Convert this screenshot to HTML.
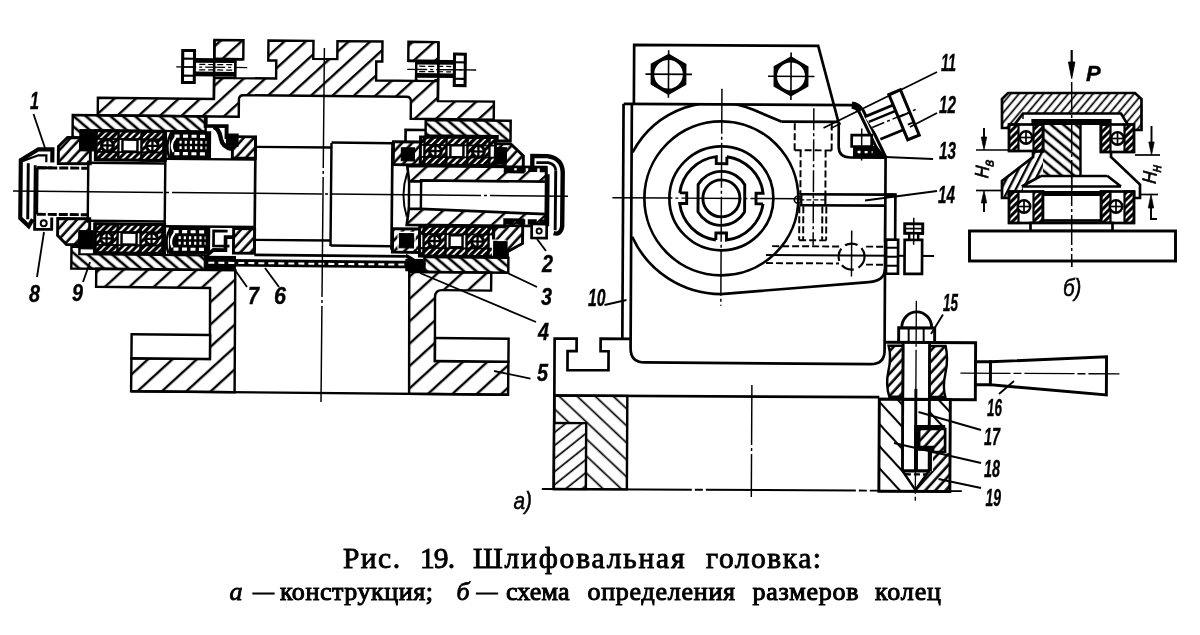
<!DOCTYPE html>
<html><head><meta charset="utf-8"><title>Рис. 19</title>
<style>
html,body{margin:0;padding:0;background:#fff;}
body{width:1200px;height:635px;overflow:hidden;position:relative;font-family:"Liberation Serif",serif;}
svg{position:absolute;left:0;top:0;will-change:transform;}
svg *{stroke:#000;stroke-linejoin:miter;}
svg text{stroke:none;fill:#000;}
.n{font-family:"Liberation Sans",sans-serif;font-style:italic;font-weight:bold;stroke:#000 !important;stroke-width:0.4px;}
.n2{font-family:"Liberation Sans",sans-serif;font-style:italic;stroke:#000 !important;stroke-width:0.5px;}
.c1{font-family:"Liberation Serif",serif;stroke:#000 !important;stroke-width:0.85px;}
.c2{font-family:"Liberation Serif",serif;stroke:#000 !important;stroke-width:1px;}
</style></head><body>
<svg width="1200" height="635" viewBox="0 0 1200 635">
<defs>
<pattern id="hA" width="14.5" height="14.5" patternUnits="userSpaceOnUse" patternTransform="rotate(-43)"><line x1="0" y1="6" x2="14.5" y2="6" stroke-width="2.4"/></pattern>
<pattern id="hA2" width="16.5" height="16.5" patternUnits="userSpaceOnUse" patternTransform="rotate(-43)"><line x1="0" y1="3" x2="16.5" y2="3" stroke-width="2.4"/></pattern>
<pattern id="hB" width="8" height="8" patternUnits="userSpaceOnUse" patternTransform="rotate(40)"><line x1="0" y1="4" x2="8" y2="4" stroke-width="2.6"/></pattern>
<pattern id="hC" width="5" height="5" patternUnits="userSpaceOnUse" patternTransform="rotate(-45)"><line x1="0" y1="2.5" x2="5" y2="2.5" stroke-width="3.1"/></pattern>
<pattern id="hD" width="10.2" height="10.2" patternUnits="userSpaceOnUse" patternTransform="rotate(-39)"><line x1="0" y1="3" x2="10.2" y2="3" stroke-width="1.7"/></pattern>
<pattern id="hE" width="12.4" height="12.4" patternUnits="userSpaceOnUse" patternTransform="rotate(43)"><line x1="0" y1="8" x2="12.4" y2="8" stroke-width="1.7"/></pattern>
<pattern id="hF" width="7.5" height="7.5" patternUnits="userSpaceOnUse" patternTransform="rotate(-48)"><line x1="0" y1="3.5" x2="7.5" y2="3.5" stroke-width="2.6"/></pattern>
<pattern id="hK" width="6.3" height="6.3" patternUnits="userSpaceOnUse" patternTransform="rotate(-50)"><line x1="0" y1="3" x2="6.3" y2="3" stroke-width="1.7"/></pattern>
<pattern id="hL" width="6.5" height="6.5" patternUnits="userSpaceOnUse" patternTransform="rotate(-63)"><line x1="0" y1="3" x2="6.5" y2="3" stroke-width="2.3"/></pattern>
<pattern id="hG" width="15" height="15" patternUnits="userSpaceOnUse" patternTransform="rotate(47)"><line x1="0" y1="5" x2="15" y2="5" stroke-width="2.1"/></pattern>
<clipPath id="clipTop"><rect x="600" y="104" width="300" height="300"/></clipPath>
</defs>
<g transform="rotate(0.55 323 194)">
<path d="M97,100 L213,100 L213,41 L242,41 L242,60 L234,60 L234,79 L275,79 L275,61 L267,61 L267,41 L312,41 L312,59 L336,59 L336,41 L381,41 L381,61 L375,61 L375,80 L415,80 L415,60 L407,60 L407,41 L437,41 L437,100 L493,100 L493,118 L410,118 L410,100.5 Q410,96 405.5,96 L242.5,96 Q238,96 238,100.5 L238,117.5 L97,117.5 Z" fill="url(#hA)" stroke-width="2.44" />
<rect x="213" y="60" width="21" height="18" fill="#fff" stroke-width="0" />
<rect x="415" y="60" width="22" height="18" fill="#fff" stroke-width="0" />
<rect x="181.4" y="51.8" width="11.8" height="32" fill="#fff" stroke-width="3.05" />
<line x1="181.4" y1="60" x2="193.2" y2="60" stroke-width="2.196" />
<line x1="181.4" y1="68.3" x2="193.2" y2="68.3" stroke-width="1.464" />
<line x1="181.4" y1="77" x2="193.2" y2="77" stroke-width="2.196" />
<rect x="193.5" y="59.3" width="41" height="4.6" fill="#000" stroke-width="0" />
<rect x="193.5" y="72.8" width="41" height="4.7" fill="#000" stroke-width="0" />
<line x1="198" y1="65.6" x2="232" y2="65.6" stroke-width="1.22" stroke-dasharray="6 3" />
<line x1="198" y1="71" x2="232" y2="71" stroke-width="1.22" stroke-dasharray="6 3" />
<line x1="213" y1="60" x2="242" y2="60" stroke-width="2.684" />
<line x1="213" y1="79" x2="234" y2="79" stroke-width="2.44" />
<line x1="213" y1="41" x2="213" y2="100" stroke-width="2.44" />
<line x1="234" y1="60" x2="234" y2="79" stroke-width="2.44" />
<line x1="175" y1="68.3" x2="246" y2="68.3" stroke-width="1.342" stroke-dasharray="20 3 3 3" />
<rect x="453.2" y="52.8" width="10.8" height="31.5" fill="#fff" stroke-width="3.05" />
<line x1="453.2" y1="61" x2="464" y2="61" stroke-width="2.196" />
<line x1="453.2" y1="68.5" x2="464" y2="68.5" stroke-width="1.464" />
<line x1="453.2" y1="77.5" x2="464" y2="77.5" stroke-width="2.196" />
<rect x="415" y="58.8" width="38.5" height="4.7" fill="#000" stroke-width="0" />
<rect x="415" y="72.2" width="38.5" height="4.6" fill="#000" stroke-width="0" />
<line x1="418" y1="65.3" x2="450" y2="65.3" stroke-width="1.22" stroke-dasharray="6 3" />
<line x1="418" y1="70.6" x2="450" y2="70.6" stroke-width="1.22" stroke-dasharray="6 3" />
<line x1="407" y1="60" x2="437" y2="60" stroke-width="2.684" />
<line x1="415" y1="80" x2="437" y2="80" stroke-width="2.44" />
<line x1="437" y1="41" x2="437" y2="100" stroke-width="2.44" />
<line x1="415" y1="60" x2="415" y2="80" stroke-width="2.44" />
<line x1="406" y1="68.5" x2="475" y2="68.5" stroke-width="1.342" stroke-dasharray="20 3 3 3" />
<path d="M97,271 L236,271 L236.5,393 L133,393 L133,360 L211.5,360 L211,289 L97,289 Z" fill="url(#hA2)" stroke-width="2.44" />
<rect x="133" y="336" width="78.5" height="24" fill="#fff" stroke-width="2.44" />
<path d="M410,271 L492,271 L492,289 L443,289 Q436,289 436,296 L436.5,360 L510,360 L510,393 L411,393 Z" fill="url(#hA2)" stroke-width="2.44" />
<rect x="436.5" y="337" width="73.5" height="23" fill="#fff" stroke-width="2.44" />
<line x1="133" y1="393" x2="510" y2="393" stroke-width="2.44" />
<path d="M72,117.5 L205,117.5 L205,132.5 L80,132.5 L80,140 L72,140 Z" fill="url(#hB)" stroke-width="2.44" />
<path d="M72,271 L72,249 L80,249 L80,256.5 L208,256.5 L208,271 Z" fill="url(#hB)" stroke-width="2.44" />
<path d="M425,119 L510,119 L510,139 L497,139 L497,134.5 L425,134.5 Z" fill="url(#hB)" stroke-width="2.44" />
<path d="M425,256 L509,256 L509,271 L425,271 Z" fill="url(#hB)" stroke-width="2.44" />
<rect x="206" y="260" width="220" height="7.5" fill="#000" stroke-width="0" />
<line x1="255" y1="255.5" x2="406" y2="255.5" stroke-width="2.684" />
<path d="M205,257.5 L236,257.5 L236,270 L205,270 Z" fill="#000" stroke-width="1.22" />
<line x1="209" y1="263.8" x2="420" y2="263.8" stroke-width="2.074" stroke-dasharray="6 4" style="stroke:#fff"/>
<line x1="37" y1="170.5" x2="88" y2="170.5" stroke-width="2.928" stroke-dasharray="9 2" />
<line x1="37" y1="217" x2="88" y2="217" stroke-width="2.928" stroke-dasharray="9 2" />
<line x1="37" y1="170.5" x2="37" y2="217" stroke-width="2.684" />
<line x1="88" y1="163" x2="88" y2="225" stroke-width="2.44" />
<line x1="88" y1="165" x2="165" y2="165" stroke-width="2.44" />
<line x1="88" y1="223" x2="165" y2="223" stroke-width="2.44" />
<line x1="165" y1="161" x2="165" y2="227" stroke-width="2.44" />
<line x1="165" y1="160.3" x2="255" y2="160.3" stroke-width="2.44" />
<line x1="165" y1="227.7" x2="255" y2="227.7" stroke-width="2.44" />
<line x1="255" y1="137" x2="255" y2="251" stroke-width="2.684" />
<line x1="255" y1="147.5" x2="331" y2="147.5" stroke-width="2.44" />
<line x1="255" y1="240.5" x2="331" y2="240.5" stroke-width="2.44" />
<line x1="331" y1="143" x2="331" y2="246" stroke-width="2.44" />
<line x1="331" y1="142.5" x2="392" y2="142.5" stroke-width="2.44" />
<line x1="331" y1="245.5" x2="392" y2="245.5" stroke-width="2.44" />
<line x1="392" y1="141" x2="392" y2="249" stroke-width="2.684" />
<rect x="95" y="133" width="70" height="29" fill="#fff" stroke-width="2.928" />
<rect x="95" y="133" width="70" height="8" fill="url(#hC)" stroke-width="1.83" />
<rect x="95" y="154" width="70" height="8" fill="url(#hC)" stroke-width="1.83" />
<rect x="96" y="133" width="22" height="29" fill="url(#hC)" stroke-width="2.44" />
<circle cx="107" cy="147.5" r="5.9" fill="#fff" stroke-width="3.05"/>
<line x1="101" y1="147.5" x2="113" y2="147.5" stroke-width="2.318" />
<line x1="107" y1="141.5" x2="107" y2="153.5" stroke-width="2.318" />
<rect x="141" y="133" width="22" height="29" fill="url(#hC)" stroke-width="2.44" />
<circle cx="152" cy="147.5" r="5.9" fill="#fff" stroke-width="3.05"/>
<line x1="146" y1="147.5" x2="158" y2="147.5" stroke-width="2.318" />
<line x1="152" y1="141.5" x2="152" y2="153.5" stroke-width="2.318" />
<rect x="122" y="141.5" width="15" height="12" fill="#fff" stroke-width="2.44" />
<rect x="95" y="226" width="70" height="29" fill="#fff" stroke-width="2.928" />
<rect x="95" y="226" width="70" height="8" fill="url(#hC)" stroke-width="1.83" />
<rect x="95" y="247" width="70" height="8" fill="url(#hC)" stroke-width="1.83" />
<rect x="96" y="226" width="22" height="29" fill="url(#hC)" stroke-width="2.44" />
<circle cx="107" cy="240.5" r="5.9" fill="#fff" stroke-width="3.05"/>
<line x1="101" y1="240.5" x2="113" y2="240.5" stroke-width="2.318" />
<line x1="107" y1="234.5" x2="107" y2="246.5" stroke-width="2.318" />
<rect x="141" y="226" width="22" height="29" fill="url(#hC)" stroke-width="2.44" />
<circle cx="152" cy="240.5" r="5.9" fill="#fff" stroke-width="3.05"/>
<line x1="146" y1="240.5" x2="158" y2="240.5" stroke-width="2.318" />
<line x1="152" y1="234.5" x2="152" y2="246.5" stroke-width="2.318" />
<rect x="122" y="234.5" width="15" height="12" fill="#fff" stroke-width="2.44" />
<rect x="170" y="133" width="40" height="26.5" fill="#000" stroke-width="1.22" />
<path d="M169,159.5 Q164,146.25 171,133" fill="none" stroke-width="2.44" />
<line x1="174" y1="137.5" x2="207" y2="137.5" stroke-width="3.172" stroke-dasharray="5 3.5" style="stroke:#fff"/>
<line x1="174" y1="155" x2="207" y2="155" stroke-width="3.172" stroke-dasharray="5 3.5" style="stroke:#fff"/>
<line x1="179" y1="143.5" x2="206" y2="143.5" stroke-width="2.928" stroke-dasharray="2.2 3" style="stroke:#fff"/>
<line x1="179" y1="149" x2="206" y2="149" stroke-width="2.928" stroke-dasharray="2.2 3" style="stroke:#fff"/>
<path d="M173,153.5 Q169,146.25 175,139" fill="none" stroke-width="2.196" style="stroke:#fff"/>
<rect x="170" y="228.5" width="40" height="26.5" fill="#000" stroke-width="1.22" />
<path d="M169,255 Q164,241.75 171,228.5" fill="none" stroke-width="2.44" />
<line x1="174" y1="233" x2="207" y2="233" stroke-width="3.172" stroke-dasharray="5 3.5" style="stroke:#fff"/>
<line x1="174" y1="250.5" x2="207" y2="250.5" stroke-width="3.172" stroke-dasharray="5 3.5" style="stroke:#fff"/>
<line x1="179" y1="239" x2="206" y2="239" stroke-width="2.928" stroke-dasharray="2.2 3" style="stroke:#fff"/>
<line x1="179" y1="244.5" x2="206" y2="244.5" stroke-width="2.928" stroke-dasharray="2.2 3" style="stroke:#fff"/>
<path d="M173,249 Q169,241.75 175,234.5" fill="none" stroke-width="2.196" style="stroke:#fff"/>
<path d="M205,117.5 L205,127 L226,127 L226,138 L232,138" fill="none" stroke-width="3.904" />
<path d="M213,128 Q219,130 220.5,140 Q222,148 232,150" fill="none" stroke-width="4.392" />
<rect x="232" y="137.5" width="23" height="21.5" fill="url(#hF)" stroke-width="2.928" />
<rect x="226" y="135" width="11.5" height="12" fill="#000" stroke-width="1.22" />
<path d="M208,256 L214,251 L226,251 L226,238 L234,238" fill="none" stroke-width="3.66" />
<rect x="234" y="229.5" width="21" height="24.5" fill="url(#hF)" stroke-width="2.928" />
<path d="M228,232 L214,232 L214,247 L230,247" fill="none" stroke-width="2.684" />
<rect x="80" y="134" width="13.5" height="19" fill="#000" stroke-width="1.22" />
<rect x="80" y="233" width="13.5" height="18" fill="#000" stroke-width="1.22" />
<path d="M58,149 L67,140 L80,140 L80,152 L90,152 L90,166 L58,166 Z" fill="url(#hF)" stroke-width="2.928" />
<path d="M58,238 L67,247 L80,247 L80,235 L90,235 L90,221 L58,221 Z" fill="url(#hF)" stroke-width="2.928" />
<path d="M52,165 L52,152 L38,152 L20.5,163 L20.5,221 L29,229 L33,222" fill="none" stroke-width="4.148" />
<path d="M28,166 L28,222 M35,168 L35,232 L52,232 L52,220" fill="none" stroke-width="2.928" />
<path d="M22,164 L38,158 L46,158 L46,165" fill="none" stroke-width="2.196" />
<circle cx="44" cy="226" r="3" fill="none" stroke-width="1.952"/>
<line x1="37" y1="170.5" x2="52" y2="170.5" stroke-width="2.928" />
<rect x="393" y="141" width="27" height="23" fill="url(#hF)" stroke-width="2.928" />
<rect x="393" y="228" width="27" height="23.5" fill="url(#hF)" stroke-width="2.928" />
<rect x="401" y="147" width="13" height="13" fill="#000" stroke-width="1.22" />
<rect x="400" y="233" width="14" height="14" fill="#000" stroke-width="1.22" />
<path d="M398.5,248 L398.5,231.5 L415.5,231.5 L415.5,248" fill="none" stroke-width="1.22" style="stroke:#fff"/>
<path d="M407,165 L546,165 L546,179.5 L421,179.5 L421,180.5 L409,180.5 Z" fill="url(#hA)" stroke-width="2.684" />
<path d="M407,224 L546,224 L546,212 L421,208 L421,208 L409,208 Z" fill="url(#hA)" stroke-width="2.684" />
<line x1="409" y1="180" x2="409" y2="208" stroke-width="2.44" />
<line x1="421" y1="179.5" x2="421" y2="208" stroke-width="2.44" />
<path d="M407,172 Q400,194 407,216" fill="none" stroke-width="1.952" />
<line x1="546" y1="165" x2="546" y2="223" stroke-width="2.684" />
<path d="M405,141 L405,129 L425,129" fill="none" stroke-width="2.684" />
<rect x="420" y="136" width="75" height="28" fill="#fff" stroke-width="2.928" />
<rect x="420" y="136" width="75" height="8" fill="url(#hC)" stroke-width="1.83" />
<rect x="420" y="156" width="75" height="8" fill="url(#hC)" stroke-width="1.83" />
<rect x="424" y="136" width="22" height="28" fill="url(#hC)" stroke-width="2.44" />
<circle cx="435" cy="150" r="5.9" fill="#fff" stroke-width="3.05"/>
<line x1="429" y1="150" x2="441" y2="150" stroke-width="2.318" />
<line x1="435" y1="144" x2="435" y2="156" stroke-width="2.318" />
<rect x="467" y="136" width="22" height="28" fill="url(#hC)" stroke-width="2.44" />
<circle cx="478" cy="150" r="5.9" fill="#fff" stroke-width="3.05"/>
<line x1="472" y1="150" x2="484" y2="150" stroke-width="2.318" />
<line x1="478" y1="144" x2="478" y2="156" stroke-width="2.318" />
<rect x="450" y="144" width="13" height="12" fill="#fff" stroke-width="2.44" />
<rect x="420" y="225" width="74" height="30" fill="#fff" stroke-width="2.928" />
<rect x="420" y="225" width="74" height="8" fill="url(#hC)" stroke-width="1.83" />
<rect x="420" y="247" width="74" height="8" fill="url(#hC)" stroke-width="1.83" />
<rect x="424" y="225" width="22" height="30" fill="url(#hC)" stroke-width="2.44" />
<circle cx="435" cy="240" r="5.9" fill="#fff" stroke-width="3.05"/>
<line x1="429" y1="240" x2="441" y2="240" stroke-width="2.318" />
<line x1="435" y1="234" x2="435" y2="246" stroke-width="2.318" />
<rect x="467" y="225" width="22" height="30" fill="url(#hC)" stroke-width="2.44" />
<circle cx="478" cy="240" r="5.9" fill="#fff" stroke-width="3.05"/>
<line x1="472" y1="240" x2="484" y2="240" stroke-width="2.318" />
<line x1="478" y1="234" x2="478" y2="246" stroke-width="2.318" />
<rect x="450" y="234" width="13" height="12" fill="#fff" stroke-width="2.44" />
<path d="M495,142 L510,142 L523,154 L523,170 L505,170 L505,164 L495,164 Z" fill="url(#hF)" stroke-width="2.928" />
<path d="M494,240 L494,255 L508,255 L508,250 L523,241.5 L523,218 L505,218 L505,225 L494,225 Z" fill="url(#hF)" stroke-width="2.928" />
<rect x="497" y="146" width="9" height="16" fill="#000" stroke-width="1.22" />
<rect x="494.5" y="240" width="13" height="14" fill="#000" stroke-width="1.22" />
<path d="M493,254 L493,238.5 L507,238.5" fill="none" stroke-width="1.22" style="stroke:#fff"/>
<line x1="505" y1="167.5" x2="546" y2="167.5" stroke-width="5.124" stroke-dasharray="9 2.5" />
<line x1="505" y1="220" x2="546" y2="220" stroke-width="5.368" stroke-dasharray="9 2.5" />
<path d="M532,170 L532,154 L547,154 Q562,156 562.5,170 L562.5,224 Q561,233 554,231" fill="none" stroke-width="4.392" />
<path d="M548,172 L548,224 M555.5,168 L555.5,228" fill="none" stroke-width="2.928" />
<path d="M536,160.5 L548,160.5 Q555,162 555.5,168" fill="none" stroke-width="2.684" />
<rect x="532" y="222" width="15" height="14" fill="#fff" stroke-width="2.684" />
<circle cx="539.5" cy="229" r="2.6" fill="none" stroke-width="1.83"/>
<path d="M406,254.5 L412,258 L418,262 L426,264" fill="none" stroke-width="3.66" />
<rect x="406" y="258" width="18" height="12.5" fill="#000" stroke-width="0" />
<line x1="13" y1="194" x2="568" y2="194" stroke-width="1.464" stroke-dasharray="150 3 3 3" />
<line x1="323" y1="48" x2="323" y2="402" stroke-width="1.464" stroke-dasharray="120 3 3 3" />
</g>
<g transform="rotate(0.3 750 270)">
<path d="M633,104.5 L633,45.5 L817,45.5 L837.5,121" fill="none" stroke-width="2.684" />
<path d="M667.5,54.9 L684.647,64.8 L684.647,84.6 L667.5,94.5 L650.353,84.6 L650.353,64.8 Z" fill="#000" stroke-width="1.464" />
<circle cx="667.5" cy="74.7" r="14.3" fill="#fff" stroke-width="0"/>
<line x1="644.5" y1="74.7" x2="691" y2="74.7" stroke-width="1.586" />
<line x1="667.5" y1="50.7" x2="667.5" y2="98.2" stroke-width="1.586" />
<path d="M790,56.9 L806.714,66.55 L806.714,85.85 L790,95.5 L773.286,85.85 L773.286,66.55 Z" fill="#000" stroke-width="1.464" />
<circle cx="790" cy="76.2" r="14" fill="#fff" stroke-width="0"/>
<line x1="767" y1="76.2" x2="813.5" y2="76.2" stroke-width="1.586" />
<line x1="790" y1="52.2" x2="790" y2="99.7" stroke-width="1.586" />
<line x1="623" y1="104.5" x2="852" y2="104.5" stroke-width="2.684" />
<line x1="622.7" y1="104.5" x2="622.7" y2="340" stroke-width="2.684" />
<path d="M631,104.5 L631,349 Q631,363 645,363 L871,363.5 Q885,363.5 885,350 L885,157 L850,157 Q838,157 838,146 L838,121" fill="none" stroke-width="2.684" />
<path d="M851,104.5 Q857,105 860.5,111 L883,157" fill="none" stroke-width="7.32" />
<path d="M860,110 L882,155" fill="none" stroke-width="1.342" style="stroke:#fff"/>
<path d="M781,121.5 L752,109.6 A95.1,95.1 0 0 0 632,153" fill="none" stroke-width="2.684" clip-path="url(#clipTop)"/>
<path d="M632,237.3 A97.9,97.9 0 0 0 721,294.2 L869,281.5 Q885,280 885,268" fill="none" stroke-width="2.684" />
<line x1="781" y1="121.5" x2="838" y2="121.5" stroke-width="2.684" />
<circle cx="721" cy="198.5" r="77" fill="none" stroke-width="2.684"/>
<circle cx="721" cy="198.5" r="52" fill="none" stroke-width="2.684"/>
<path d="M726.30,156.84 A42,42 0 0 1 762.66,193.20 L755.66,193.20 L755.66,203.80 L762.66,203.80 M762.66,203.80 A42,42 0 0 1 726.30,240.16 L726.30,233.16 L715.70,233.16 L715.70,240.16 M715.70,240.16 A42,42 0 0 1 679.34,203.80 L686.34,203.80 L686.34,193.20 L679.34,193.20 M679.34,193.20 A42,42 0 0 1 715.70,156.84 L715.70,163.84 L726.30,163.84 L726.30,156.84 " fill="none" stroke-width="2.928" />
<path d="M697.70,184.86 A27,27 0 0 1 744.30,184.86 L744.30,212.14 A27,27 0 0 1 697.70,212.14 Z" fill="none" stroke-width="2.928" />
<circle cx="721" cy="198.5" r="18.5" fill="none" stroke-width="2.928"/>
<line x1="612" y1="198.5" x2="800" y2="198.5" stroke-width="1.464" stroke-dasharray="60 3 3 3" />
<line x1="721" y1="89" x2="721" y2="306" stroke-width="1.464" stroke-dasharray="45 3 3 3" />
<line x1="799" y1="194" x2="885" y2="194" stroke-width="2.684" />
<line x1="799" y1="205" x2="885" y2="205" stroke-width="2.684" />
<line x1="799" y1="199.5" x2="826" y2="199.5" stroke-width="1.22" stroke-dasharray="5 2" />
<line x1="801" y1="194" x2="801" y2="205" stroke-width="2.196" />
<line x1="825" y1="194" x2="825" y2="205" stroke-width="2.196" />
<circle cx="797.5" cy="199.5" r="3.5" fill="none" stroke-width="1.708"/>
<rect x="885" y="194" width="10" height="46" fill="#fff" stroke-width="2.684" />
<rect x="884" y="192.5" width="12" height="4" fill="#000" stroke-width="0" />
<line x1="794" y1="123" x2="794" y2="150" stroke-width="1.952" stroke-dasharray="7 3" />
<line x1="831" y1="123" x2="831" y2="150" stroke-width="1.952" stroke-dasharray="7 3" />
<line x1="794" y1="150" x2="831" y2="150" stroke-width="1.952" stroke-dasharray="7 3" />
<line x1="800" y1="150" x2="800" y2="194" stroke-width="1.952" stroke-dasharray="7 3" />
<line x1="825" y1="150" x2="825" y2="194" stroke-width="1.952" stroke-dasharray="7 3" />
<line x1="799" y1="206" x2="799" y2="240" stroke-width="1.952" stroke-dasharray="7 3" />
<line x1="803" y1="206" x2="803" y2="240" stroke-width="1.952" stroke-dasharray="7 3" />
<line x1="822" y1="206" x2="822" y2="240" stroke-width="1.952" stroke-dasharray="7 3" />
<line x1="826" y1="206" x2="826" y2="240" stroke-width="1.952" stroke-dasharray="7 3" />
<line x1="799" y1="240" x2="826" y2="240" stroke-width="1.952" stroke-dasharray="7 3" />
<line x1="813" y1="108" x2="813" y2="245" stroke-width="1.464" stroke-dasharray="22 3 3 3" />
<line x1="830" y1="128" x2="840" y2="123" stroke-width="1.464" />
<line x1="772" y1="246" x2="839" y2="246" stroke-width="1.952" stroke-dasharray="7 3" />
<line x1="766" y1="263" x2="839" y2="263" stroke-width="1.952" stroke-dasharray="7 3" />
<line x1="766" y1="255" x2="934" y2="255" stroke-width="1.952" />
<circle cx="851.5" cy="256" r="13" fill="none" stroke-width="2.196" stroke-dasharray="13 5"/>
<line x1="851.5" y1="230" x2="851.5" y2="276" stroke-width="1.464" />
<line x1="866" y1="246" x2="885" y2="246" stroke-width="1.952" stroke-dasharray="7 3" />
<line x1="866" y1="264" x2="885" y2="264" stroke-width="1.952" stroke-dasharray="7 3" />
<rect x="886" y="239" width="12" height="34" fill="#fff" stroke-width="2.684" />
<line x1="886" y1="247" x2="898" y2="247" stroke-width="1.952" />
<line x1="886" y1="256" x2="898" y2="256" stroke-width="1.952" />
<line x1="886" y1="265" x2="898" y2="265" stroke-width="1.952" />
<rect x="904.5" y="239" width="17.5" height="34" fill="#fff" stroke-width="2.684" />
<rect x="904.5" y="223" width="18" height="9.5" fill="#fff" stroke-width="2.928" />
<line x1="904.5" y1="227.8" x2="922.5" y2="227.8" stroke-width="1.708" />
<rect x="909" y="232.5" width="9" height="6.5" fill="#fff" stroke-width="2.44" />
<line x1="913.5" y1="217" x2="913.5" y2="244" stroke-width="1.464" />
<rect x="851" y="134.5" width="20" height="11.5" fill="#fff" stroke-width="2.684" />
<path d="M853,146 L876,146 L885,157 L853,157 Z" fill="#000" stroke-width="1.22" />
<line x1="857" y1="151.5" x2="872" y2="151.5" stroke-width="2.44" stroke-dasharray="3 4" style="stroke:#fff"/>
<line x1="861" y1="128" x2="861" y2="160" stroke-width="1.464" />
<g transform="translate(871.5,126.9) rotate(-22.9)">
<path d="M-3,-12.8 L28,-12.8 L28,14 L3,14 Z" fill="#fff" stroke-width="0" />
<line x1="-3" y1="-12.8" x2="28" y2="-12.8" stroke-width="2.806" />
<line x1="3" y1="14" x2="28" y2="14" stroke-width="2.806" />
<line x1="-1" y1="-6.5" x2="28" y2="-6.5" stroke-width="2.44" />
<rect x="28" y="-24" width="12.5" height="49" fill="#fff" stroke-width="3.05" />
<line x1="28" y1="0.5" x2="40.5" y2="0.5" stroke-width="1.952" />
<line x1="34" y1="11" x2="40.5" y2="11" stroke-width="1.708" />
<line x1="0" y1="0" x2="47" y2="0" stroke-width="1.464" stroke-dasharray="13 3 3 3" />
</g>
<path d="M631,339.5 L601,339.5 L601,352 L609,352 L609,371 L568,371 L568,352 L577,352 L577,339.5 L555,339.5 L555,490" fill="none" stroke-width="2.684" />
<line x1="555" y1="396.5" x2="880" y2="396.5" stroke-width="2.684" />
<rect x="555" y="396.5" width="73" height="93.5" fill="url(#hE)" stroke-width="2.44" />
<rect x="555" y="424" width="32" height="66" fill="#fff" stroke-width="0" />
<rect x="555" y="424" width="32" height="66" fill="url(#hD)" stroke-width="2.44" />
<line x1="543" y1="490" x2="963" y2="490" stroke-width="1.952" stroke-dasharray="150 3 8 3" />
<line x1="752.5" y1="385" x2="752.5" y2="497" stroke-width="1.464" stroke-dasharray="60 3 3 3" />
<path d="M885,341.5 L976,341.5 L976,398.5 L880,398.5" fill="none" stroke-width="2.928" />
<path d="M899,341.5 L899,327 L935,327 L935,341.5" fill="none" stroke-width="2.928" />
<path d="M902,327 A15,16 0 0 1 932,327" fill="none" stroke-width="2.928" />
<line x1="909" y1="327" x2="909" y2="341.5" stroke-width="1.952" />
<line x1="924" y1="327" x2="924" y2="341.5" stroke-width="1.952" />
<path d="M889,345 Q892,356 889,370 Q886,384 890,396 L903.5,396 L903.5,345 Z" fill="url(#hF)" stroke-width="2.44" />
<path d="M930,345 L946,345 Q949,358 946,372 Q943,386 946,396 L930,396 Z" fill="url(#hF)" stroke-width="2.44" />
<rect x="880" y="398.5" width="71" height="92" fill="#fff" stroke-width="0" />
<path d="M880,398.5 L903.5,398.5 L903.5,470 L916.5,489 L916.5,490.5 L880,490.5 Z" fill="url(#hG)" stroke-width="0" />
<path d="M930,398.5 L951,398.5 L951,428 L930,428 Z" fill="url(#hG)" stroke-width="0" />
<path d="M930,452 L951,452 L951,490.5 L916.5,490.5 L916.5,489 L930,470 Z" fill="url(#hF)" stroke-width="0" />
<rect x="880" y="398.5" width="71" height="92" fill="none" stroke-width="2.928" />
<path d="M903.5,398.5 L930,398.5 L930,470 L916.5,489 L903.5,470 Z" fill="none" stroke-width="2.44" />
<path d="M917,426 L946,426 L946,452 L934,452 L934,470 L930,470 L930,446 L917,446 Z" fill="#fff" stroke-width="0" />
<path d="M920,428 L946,428 L946,451 L934,451 L934,446 L920,446 Z" fill="url(#hF)" stroke-width="2.684" />
<path d="M917,470 L917,426 L946,426" fill="none" stroke-width="3.904" />
<path d="M917,448 L931,448 L931,470" fill="none" stroke-width="3.904" />
<line x1="903.5" y1="470" x2="931" y2="470" stroke-width="3.172" />
<line x1="906" y1="473.5" x2="928" y2="473.5" stroke-width="2.44" stroke-dasharray="6 3" />
<line x1="903.5" y1="341.5" x2="903.5" y2="470" stroke-width="2.684" />
<line x1="930" y1="341.5" x2="930" y2="426" stroke-width="2.684" />
<line x1="916.5" y1="300" x2="916.5" y2="500" stroke-width="1.342" stroke-dasharray="40 3 3 3" />
<line x1="916.5" y1="388" x2="916.5" y2="464" stroke-width="2.928" />
<rect x="976" y="360.5" width="15" height="23" fill="#fff" stroke-width="2.928" />
<path d="M991,360.5 L1107,355 L1107,393 L991,383.5 Z" fill="#fff" stroke-width="2.928" />
<line x1="961" y1="372" x2="1120" y2="372" stroke-width="1.342" stroke-dasharray="50 3 8 3" />
</g>
<g>
<line x1="1071.7" y1="50" x2="1071.7" y2="70" stroke-width="2.196" />
<path d="M1068.5,62 L1074.9,62 L1071.7,78.5 Z" fill="#000" stroke-width="0.976" />
<line x1="1071.7" y1="82" x2="1071.7" y2="267" stroke-width="1.464" stroke-dasharray="30 3 3 3" />
<path d="M1002,99 L1008,93 L1135,93 L1141.5,99 L1141.5,130 L1131,130 L1121,113.5 L1023,113.5 L1012,128 L1002,128 Z" fill="url(#hK)" stroke-width="2.684" />
<path d="M1032,119.5 L1111,119.5 L1111,124.5 L1032,124.5 Z" fill="#000" stroke-width="1.22" />
<line x1="1023" y1="113.5" x2="1023" y2="119" stroke-width="1.464" />
<path d="M1043,124.5 L1080.5,124.5 L1080.5,175.6 L1043,175.6 Z" fill="url(#hB)" stroke-width="0" />
<path d="M1033,151.5 L1043,151.5 L1043,175.6 L1023,187 L1023,191 L1009,191 L1009,198 L1002,198 L1002,181 L1033,157 Z" fill="url(#hL)" stroke-width="0" />
<path d="M1043,124.5 L1043,151.5 L1033,151.5 L1033,157 L1002,181 L1002,198 L1009,198 L1009,191" fill="none" stroke-width="2.684" />
<path d="M1101,124.5 L1101,151.5 L1111,151.5 L1111,157 L1140,184.5 L1140,198 L1134,198 L1134,191" fill="none" stroke-width="2.684" />
<line x1="1080.5" y1="124.5" x2="1080.5" y2="175.6" stroke-width="2.44" />
<path d="M1040.7,176 L1107.5,176 M1021.8,186.5 L1121,186.5 M1040.7,176 L1021.8,186.5 M1107.5,176 L1121,186.5" fill="none" stroke-width="2.684" />
<rect x="1009" y="124.5" width="34" height="26.5" fill="#fff" stroke-width="2.684" />
<rect x="1009" y="124.5" width="9.5" height="26.5" fill="url(#hC)" stroke-width="2.196" />
<rect x="1033.5" y="124.5" width="9.5" height="26.5" fill="url(#hC)" stroke-width="2.196" />
<circle cx="1026" cy="137.5" r="6.3" fill="#fff" stroke-width="2.44"/>
<line x1="1020" y1="137.5" x2="1032" y2="137.5" stroke-width="1.708" />
<line x1="1026" y1="131.5" x2="1026" y2="143.5" stroke-width="1.708" />
<rect x="1101" y="124.5" width="33" height="27.5" fill="#fff" stroke-width="2.684" />
<rect x="1101" y="124.5" width="9.5" height="27.5" fill="url(#hC)" stroke-width="2.196" />
<rect x="1124.5" y="124.5" width="9.5" height="27.5" fill="url(#hC)" stroke-width="2.196" />
<circle cx="1117.5" cy="138.5" r="6.3" fill="#fff" stroke-width="2.44"/>
<line x1="1111.5" y1="138.5" x2="1123.5" y2="138.5" stroke-width="1.708" />
<line x1="1117.5" y1="132.5" x2="1117.5" y2="144.5" stroke-width="1.708" />
<rect x="1009" y="191.5" width="34" height="31.5" fill="#fff" stroke-width="2.684" />
<rect x="1009" y="191.5" width="9.5" height="31.5" fill="url(#hC)" stroke-width="2.196" />
<rect x="1033.5" y="191.5" width="9.5" height="31.5" fill="url(#hC)" stroke-width="2.196" />
<circle cx="1024" cy="206.5" r="6.3" fill="#fff" stroke-width="2.44"/>
<line x1="1018" y1="206.5" x2="1030" y2="206.5" stroke-width="1.708" />
<line x1="1024" y1="200.5" x2="1024" y2="212.5" stroke-width="1.708" />
<rect x="1101" y="191.5" width="33" height="31.5" fill="#fff" stroke-width="2.684" />
<rect x="1101" y="191.5" width="9.5" height="31.5" fill="url(#hC)" stroke-width="2.196" />
<rect x="1124.5" y="191.5" width="9.5" height="31.5" fill="url(#hC)" stroke-width="2.196" />
<circle cx="1116" cy="206.5" r="6.3" fill="#fff" stroke-width="2.44"/>
<line x1="1110" y1="206.5" x2="1122" y2="206.5" stroke-width="1.708" />
<line x1="1116" y1="200.5" x2="1116" y2="212.5" stroke-width="1.708" />
<rect x="1043" y="193" width="58" height="27.5" fill="#fff" stroke-width="2.684" />
<line x1="1043" y1="193.5" x2="1101" y2="193.5" stroke-width="4.88" />
<rect x="1030.5" y="223" width="82" height="8" fill="#fff" stroke-width="2.684" />
<rect x="969.5" y="231" width="206" height="30" fill="#fff" stroke-width="2.928" />
<line x1="1071.7" y1="176" x2="1071.7" y2="267" stroke-width="1.464" stroke-dasharray="30 3 3 3" />
<line x1="976" y1="150" x2="1010" y2="150" stroke-width="1.708" />
<line x1="976" y1="190.5" x2="1003" y2="190.5" stroke-width="1.708" />
<line x1="984" y1="128" x2="984" y2="140" stroke-width="1.952" />
<path d="M981.3,137 L986.7,137 L984,150 Z" fill="#000" stroke-width="0.732" />
<line x1="984" y1="212" x2="984" y2="200" stroke-width="1.952" />
<path d="M981.3,203 L986.7,203 L984,190.5 Z" fill="#000" stroke-width="0.732" />
<line x1="1135" y1="155" x2="1160" y2="155" stroke-width="1.708" />
<line x1="1140" y1="194.5" x2="1158" y2="194.5" stroke-width="1.708" />
<line x1="1151.5" y1="126" x2="1151.5" y2="145" stroke-width="1.952" />
<path d="M1148.8,142 L1154.2,142 L1151.5,155 Z" fill="#000" stroke-width="0.732" />
<path d="M1151,207 L1151,219 L1157,219" fill="none" stroke-width="1.952" />
<path d="M1148.3,208 L1153.7,208 L1151,194.5 Z" fill="#000" stroke-width="0.732" />
</g>
<text x="30" y="108.5" class="n" font-size="24.5" textLength="9" lengthAdjust="spacingAndGlyphs">1</text>
<line x1="33.5" y1="114" x2="45" y2="148" stroke-width="1.83" />
<text x="29" y="301.5" class="n" font-size="24.5" textLength="11" lengthAdjust="spacingAndGlyphs">8</text>
<line x1="44" y1="232" x2="37" y2="277" stroke-width="1.83" />
<text x="72" y="301" class="n" font-size="24.5" textLength="11" lengthAdjust="spacingAndGlyphs">9</text>
<line x1="90" y1="262" x2="83" y2="282" stroke-width="1.83" />
<text x="248" y="304" class="n" font-size="24.5" textLength="11" lengthAdjust="spacingAndGlyphs">7</text>
<line x1="235" y1="270" x2="247" y2="287" stroke-width="1.83" />
<text x="274" y="304" class="n" font-size="24.5" textLength="12" lengthAdjust="spacingAndGlyphs">6</text>
<line x1="265" y1="268" x2="279" y2="287" stroke-width="1.83" />
<text x="542" y="272" class="n" font-size="24.5" textLength="11" lengthAdjust="spacingAndGlyphs">2</text>
<line x1="537" y1="239" x2="546" y2="251" stroke-width="1.83" />
<text x="541" y="305" class="n" font-size="24.5" textLength="11" lengthAdjust="spacingAndGlyphs">3</text>
<line x1="497" y1="268" x2="537" y2="287" stroke-width="1.83" />
<text x="538" y="340" class="n" font-size="24.5" textLength="11" lengthAdjust="spacingAndGlyphs">4</text>
<line x1="420" y1="273" x2="536" y2="322" stroke-width="1.83" />
<text x="537" y="381" class="n" font-size="24.5" textLength="11" lengthAdjust="spacingAndGlyphs">5</text>
<line x1="494" y1="371" x2="530.5" y2="378.6" stroke-width="1.83" />
<text x="588" y="305.5" class="n" font-size="24.5" textLength="17.5" lengthAdjust="spacingAndGlyphs">10</text>
<line x1="604.5" y1="305" x2="626.5" y2="300" stroke-width="1.83" />
<text x="941" y="71" class="n" font-size="24.5" textLength="15" lengthAdjust="spacingAndGlyphs">11</text>
<line x1="823.5" y1="128" x2="937" y2="72" stroke-width="1.83" />
<text x="939" y="113" class="n" font-size="24.5" textLength="17" lengthAdjust="spacingAndGlyphs">12</text>
<line x1="910" y1="127" x2="937" y2="113" stroke-width="1.83" />
<text x="939" y="159" class="n" font-size="24.5" textLength="17" lengthAdjust="spacingAndGlyphs">13</text>
<line x1="885" y1="157" x2="933" y2="159" stroke-width="1.83" />
<text x="938" y="202.5" class="n" font-size="24.5" textLength="17" lengthAdjust="spacingAndGlyphs">14</text>
<line x1="865" y1="200.5" x2="937" y2="191" stroke-width="1.83" />
<text x="943" y="311" class="n" font-size="24.5" textLength="15" lengthAdjust="spacingAndGlyphs">15</text>
<line x1="943" y1="314.5" x2="931" y2="334" stroke-width="1.83" />
<text x="987" y="415.5" class="n" font-size="24.5" textLength="15" lengthAdjust="spacingAndGlyphs">16</text>
<line x1="1014" y1="381" x2="999" y2="394" stroke-width="1.83" />
<text x="984" y="445" class="n" font-size="24.5" textLength="16" lengthAdjust="spacingAndGlyphs">17</text>
<line x1="918.5" y1="412" x2="981" y2="430" stroke-width="1.83" />
<text x="984" y="476.5" class="n" font-size="24.5" textLength="16" lengthAdjust="spacingAndGlyphs">18</text>
<line x1="894" y1="443" x2="981" y2="463" stroke-width="1.83" />
<text x="985.5" y="506" class="n" font-size="24.5" textLength="15.5" lengthAdjust="spacingAndGlyphs">19</text>
<line x1="938.5" y1="479" x2="981" y2="488" stroke-width="1.83" />
<text x="513.5" y="508.5" class="n2" font-size="24" textLength="18.5" lengthAdjust="spacingAndGlyphs">а)</text>
<text x="1063" y="296" class="n2" font-size="24" textLength="18.5" lengthAdjust="spacingAndGlyphs">б)</text>
<text x="1086" y="81" class="n" font-size="22" >P</text>
<text class="n2" font-size="19.5" transform="translate(988,178.5) rotate(-84) scale(0.85,1)" style="stroke-width:0.7px">H<tspan font-size="15" dy="4">в</tspan></text>
<text class="n2" font-size="19.5" transform="translate(1155.5,184) rotate(-84) scale(0.85,1)" style="stroke-width:0.7px">H<tspan font-size="15" dy="4">н</tspan></text>
<text x="343" y="567.5" class="c1" font-size="29.5" textLength="57" lengthAdjust="spacing" >Рис.</text>
<text x="420" y="567.5" class="c1" font-size="29.5" textLength="35" lengthAdjust="spacing" >19.</text>
<text x="473" y="567.5" class="c1" font-size="29.5" textLength="211.5" lengthAdjust="spacing" >Шлифовальная</text>
<text x="706" y="567.5" class="c1" font-size="29.5" textLength="115" lengthAdjust="spacing" >головка:</text>
<text x="229.5" y="599.5" class="c1" font-size="26" textLength="11.5" lengthAdjust="spacing" font-style="italic">а</text>
<text x="253" y="598.5" class="c2" font-size="21" textLength="19" lengthAdjust="spacing" >—</text>
<text x="280" y="599.5" class="c2" font-size="26" textLength="153" lengthAdjust="spacing" >конструкция;</text>
<text x="456.5" y="599.5" class="c1" font-size="26" textLength="10.5" lengthAdjust="spacing" font-style="italic">б</text>
<text x="476.5" y="598.5" class="c2" font-size="21" textLength="20.5" lengthAdjust="spacing" >—</text>
<text x="506" y="599.5" class="c2" font-size="26" textLength="63.5" lengthAdjust="spacing" >схема</text>
<text x="587.5" y="599.5" class="c2" font-size="26" textLength="147.5" lengthAdjust="spacing" >определения</text>
<text x="752.5" y="599.5" class="c2" font-size="26" textLength="106" lengthAdjust="spacing" >размеров</text>
<text x="875" y="599.5" class="c2" font-size="26" textLength="66" lengthAdjust="spacing" >колец</text>
</svg>
</body></html>
